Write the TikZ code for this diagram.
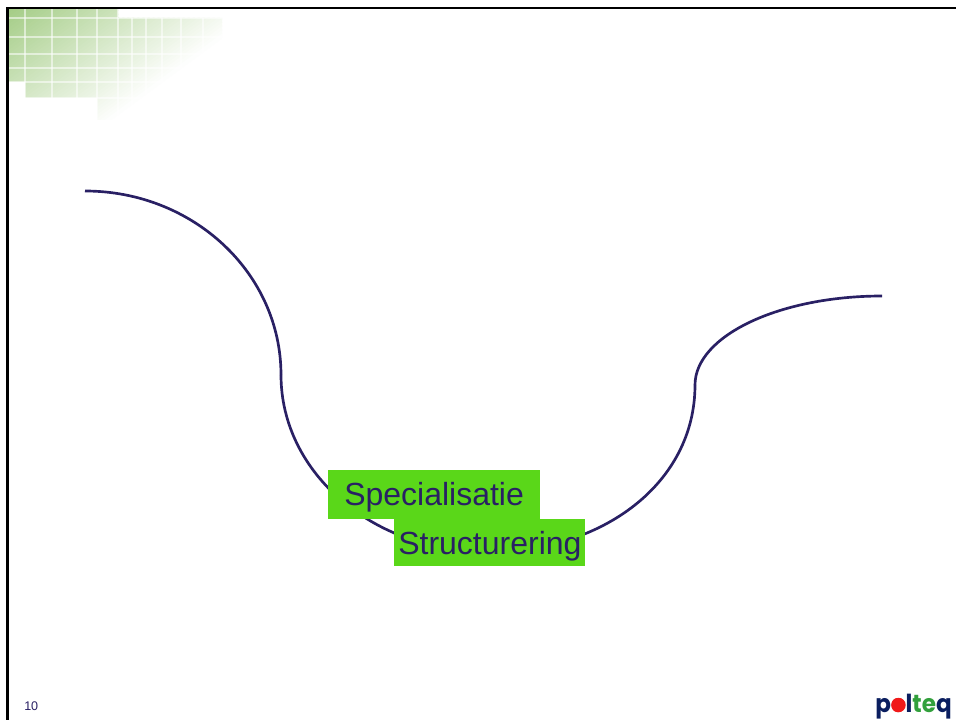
\documentclass[tikz,border=0pt]{standalone}
\usepackage{fontspec}
\usepackage{graphicx}
\setmainfont{Liberation Sans}
\newfontfamily\logofont{Poppins}
\definecolor{navy}{RGB}{41,32,100}
\definecolor{boxgreen}{RGB}{90,215,25}
\definecolor{gridgreen}{RGB}{165,205,135}
\definecolor{logoblue}{RGB}{10,30,95}
\definecolor{logored}{RGB}{240,25,25}
\definecolor{logogreen}{RGB}{50,160,60}
\tikzset{
  px/.style={x=0.75pt,y=-0.75pt},
  curveline/.style={draw=navy,line width=2pt},
  greenbox/.style={fill=boxgreen,draw=none,inner sep=0pt,anchor=north west},
  boxlabel/.style={text=navy,font=\fontsize{24pt}{26pt}\selectfont,inner sep=0pt,anchor=base west},
  gridline/.style={white,opacity=0.55,line width=0.8pt},
}
\begin{document}
\begin{tikzpicture}[px]
\useasboundingbox (0,0) rectangle (956,720);
\fill[white] (0,0) rectangle (956,720);
% corner decoration: diagonal fade built from slightly overlapping strips
\begin{scope}
  \clip (9,9) -| (118,18) -| (222,98) -| (222,120) -| (97,98) -| (25,82) -| (9,9) -- cycle;
  \foreach \t in {-6,-3,...,147} {
    \pgfmathsetmacro{\pct}{max(0,min(100,\t/150*100))}
    \pgfmathsetmacro{\ax}{9+\t*0.59-400*0.80}
    \pgfmathsetmacro{\ay}{9+\t*0.80+400*0.59}
    \pgfmathsetmacro{\bx}{9+\t*0.59+400*0.80}
    \pgfmathsetmacro{\by}{9+\t*0.80-400*0.59}
    \pgfmathsetmacro{\cx}{\bx+4*0.59}
    \pgfmathsetmacro{\cy}{\by+4*0.80}
    \pgfmathsetmacro{\dx}{\ax+4*0.59}
    \pgfmathsetmacro{\dy}{\ay+4*0.80}
    \fill[white!\pct!gridgreen] (\ax,\ay) -- (\bx,\by) -- (\cx,\cy) -- (\dx,\dy) -- cycle;
  }
  \foreach \gx in {25,52,77,97,118,132,146,162,181,203}
    \draw[gridline] (\gx,9) -- (\gx,120);
  \foreach \gy in {18,37,54,68,82,98}
    \draw[gridline] (9,\gy) -- (222,\gy);
\end{scope}
% frame
\fill[black] (6,7) rectangle (956,9);
\fill[black] (6,7) rectangle (9,720);
% curves
\coordinate (a) at (85,191);
\coordinate (b) at (281,375);
\coordinate (c) at (488,552);
\coordinate (d) at (695,385);
\coordinate (e) at (882,296);
\draw[curveline] (a) .. controls (193,191) and (281,273) .. (b);
\draw[curveline] (b) .. controls (281,473) and (373,552) .. (c);
\draw[curveline] (c) .. controls (603,552) and (695,483) .. (d);
\draw[curveline] (d) .. controls (695,336) and (779,296) .. (e);
% boxes
\node[greenbox,minimum width=159pt,minimum height=36.75pt] (box1) at (328,470) {};
\node[greenbox,minimum width=143.25pt,minimum height=35.25pt] (box2) at (394,519) {};
\node[boxlabel] (spec) at (344,505) {Specialisatie};
\node[boxlabel] (struct) at (398,554) {Structurering};
% page number
\node[text=navy,font=\fontsize{9.4pt}{11pt}\selectfont,inner sep=0pt,anchor=base west] (page) at (24,710) {10};
% logo
\node[inner sep=0pt,anchor=base west,font=\logofont\bfseries\fontsize{18.6pt}{20pt}\selectfont] (logo) at (875,712)
  {\scalebox{0.93}[1]{\textcolor{logoblue}{p}\textcolor{logored}{o}\textcolor{logoblue}{l}\textcolor{logogreen}{te}\textcolor{logoblue}{q}}};
\fill[logored] (898.5,705) circle (7.2);
\end{tikzpicture}
\end{document}
